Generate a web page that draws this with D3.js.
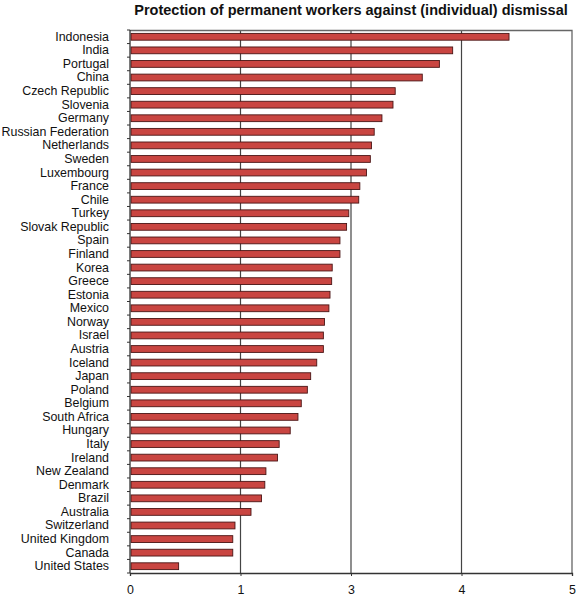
<!DOCTYPE html>
<html>
<head>
<meta charset="utf-8">
<script src="https://cdn.jsdelivr.net/npm/d3@7"></script>
<style>
  body { margin: 0; background: #fff; }
  svg text { font-family: "Liberation Sans", Arial, sans-serif; fill: #111; }
</style>
</head>
<body>
<div class="chart"></div>
<script>
// data (values in axis position units)
const countries = ["Indonesia", "India", "Portugal", "China", "Czech Republic", "Slovenia", "Germany",
  "Russian Federation", "Netherlands", "Sweden", "Luxembourg", "France", "Chile", "Turkey",
  "Slovak Republic", "Spain", "Finland", "Korea", "Greece", "Estonia", "Mexico", "Norway", "Israel",
  "Austria", "Iceland", "Japan", "Poland", "Belgium", "South Africa", "Hungary", "Italy", "Ireland",
  "New Zealand", "Denmark", "Brazil", "Australia", "Switzerland", "United Kingdom", "Canada", "United States"];
const values = [3.43, 2.92, 2.80, 2.645, 2.40, 2.38, 2.28,
  2.21, 2.185, 2.175, 2.14, 2.08, 2.07, 1.98,
  1.96, 1.90, 1.90, 1.83, 1.825, 1.81, 1.80, 1.76, 1.75,
  1.75, 1.69, 1.635, 1.605, 1.55, 1.52, 1.45, 1.35, 1.335,
  1.23, 1.22, 1.19, 1.095, 0.95, 0.93, 0.93, 0.44];
// the original axis is labelled like this (no "2")
const xTickLabels = ["0", "1", "3", "4", "5"];
const title = "Protection of permanent workers against (individual) dismissal";

const outerWidth = 584, outerHeight = 605;
const margin = {top: 30, right: 12, bottom: 32, left: 130};
const width = outerWidth - margin.left - margin.right;
const height = outerHeight - margin.top - margin.bottom;

const data = countries.map((c, i) => ({country: c, value: values[i]}));

const svg = d3.select(".chart").append("svg")
  .attr("width", outerWidth)
  .attr("height", outerHeight);

const g = svg.append("g")
  .attr("transform", `translate(${margin.left},${margin.top})`);

const xScale = d3.scaleLinear()
  .domain([0, xTickLabels.length - 1])
  .range([0, width]);

const yScale = d3.scaleBand()
  .domain(countries)
  .range([0, height])
  .paddingInner(0.5)
  .paddingOuter(0.25);

// gridlines
g.append("g").attr("class", "grid")
  .selectAll("line")
  .data(d3.range(1, xTickLabels.length - 1))
  .join("line")
  .attr("x1", d => xScale(d)).attr("x2", d => xScale(d))
  .attr("y1", 0).attr("y2", height)
  .attr("stroke", "#444").attr("stroke-width", 1.2);

// frame (top and right)
g.append("path")
  .attr("d", `M0,0.5H${width}V${height}`)
  .attr("fill", "none")
  .attr("stroke", "#666")
  .attr("stroke-width", 1.3);

// bars
g.append("g").attr("class", "bars")
  .selectAll("rect")
  .data(data)
  .join("rect")
  .attr("x", xScale(0) + 1)
  .attr("y", d => yScale(d.country))
  .attr("width", d => xScale(d.value) - xScale(0) - 1)
  .attr("height", yScale.bandwidth())
  .attr("fill", "#c94541")
  .attr("stroke", "#4a1515")
  .attr("stroke-width", 0.9);

// y axis: labels at band centres, ticks between categories
const yAxis = d3.axisLeft(yScale).tickSize(0).tickPadding(21);
const y_axis = g.append("g").attr("class", "axis y-axis").call(yAxis);
y_axis.select(".domain").remove();
y_axis.selectAll("text").style("font-size", "12.4px");

const step = yScale.step();
g.append("g").attr("class", "y-ticks")
  .selectAll("line")
  .data(d3.range(countries.length + 1))
  .join("line")
  .attr("x1", -3).attr("x2", 0)
  .attr("y1", i => i * step).attr("y2", i => i * step)
  .attr("stroke", "#333");

// x axis
const xAxis = d3.axisBottom(xScale)
  .tickValues(d3.range(xTickLabels.length))
  .tickFormat(i => xTickLabels[i])
  .tickSize(3)
  .tickPadding(9);
const x_axis = g.append("g").attr("class", "axis x-axis")
  .attr("transform", `translate(0,${height})`)
  .call(xAxis);
x_axis.select(".domain").attr("stroke", "#333").attr("stroke-width", 1.3);
x_axis.selectAll("line").attr("stroke", "#333");
x_axis.selectAll("text").style("font-size", "12.4px");

// left axis line
g.append("line")
  .attr("x1", 0).attr("x2", 0)
  .attr("y1", 0).attr("y2", height)
  .attr("stroke", "#333").attr("stroke-width", 1.3);

// title
svg.append("text")
  .attr("x", margin.left + width / 2)
  .attr("y", 15)
  .attr("text-anchor", "middle")
  .style("font-size", "14.5px")
  .style("font-weight", "bold")
  .text(title);
</script>
</body>
</html>
